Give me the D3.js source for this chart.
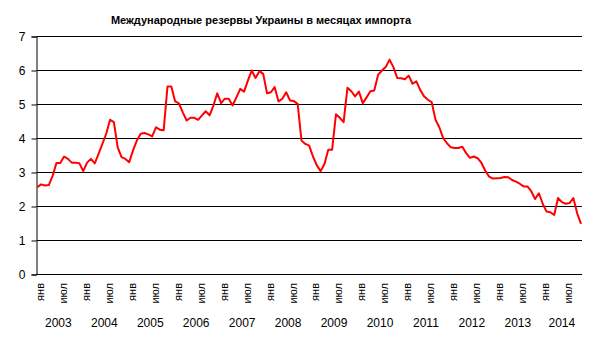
<!DOCTYPE html>
<html>
<head>
<meta charset="utf-8">
<script src="https://cdn.jsdelivr.net/npm/d3@7"></script>
<style>
  html, body { margin: 0; padding: 0; background: #fff; }
  svg { display: block; font-family: "Liberation Sans", Arial, sans-serif; }
</style>
</head>
<body>
<svg id="chart" width="600" height="340"></svg>
<script>
// International reserves of Ukraine, in months of imports (monthly, Jan 2003 – Nov 2014)
const title = "Международные резервы Украины в месяцах импорта";
const startYear = 2003;
const years = [2003, 2004, 2005, 2006, 2007, 2008, 2009, 2010, 2011, 2012, 2013, 2014];
const monthLabels = ["янв", "июл"];
const yTicks = [0, 1, 2, 3, 4, 5, 6, 7];
const reserves = [
  // 2003
  2.57, 2.65, 2.62, 2.63, 2.90, 3.28, 3.28, 3.47, 3.40, 3.29, 3.29, 3.27,
  // 2004
  3.04, 3.29, 3.40, 3.27, 3.55, 3.84, 4.14, 4.55, 4.48, 3.74, 3.45, 3.40,
  // 2005
  3.30, 3.65, 3.94, 4.14, 4.16, 4.12, 4.06, 4.33, 4.26, 4.24, 5.53, 5.53,
  // 2006
  5.09, 5.03, 4.77, 4.53, 4.61, 4.61, 4.55, 4.68, 4.80, 4.68, 4.97, 5.33,
  // 2007
  5.04, 5.17, 5.17, 4.97, 5.21, 5.46, 5.38, 5.70, 6.00, 5.78, 5.98, 5.90,
  // 2008
  5.33, 5.36, 5.51, 5.09, 5.17, 5.36, 5.12, 5.10, 5.02, 3.94, 3.84, 3.79,
  // 2009
  3.47, 3.21, 3.04, 3.25, 3.67, 3.67, 4.71, 4.61, 4.48, 5.49, 5.39, 5.24,
  // 2010
  5.38, 5.04, 5.21, 5.39, 5.41, 5.87, 6.00, 6.10, 6.32, 6.10, 5.78, 5.77,
  // 2011
  5.74, 5.85, 5.61, 5.68, 5.43, 5.24, 5.14, 5.07, 4.55, 4.33, 4.01, 3.86,
  // 2012
  3.74, 3.72, 3.72, 3.76, 3.57, 3.43, 3.47, 3.42, 3.28, 3.05, 2.88, 2.82,
  // 2013
  2.83, 2.84, 2.87, 2.86, 2.78, 2.73, 2.67, 2.59, 2.59, 2.45, 2.22, 2.39,
  // 2014
  2.08, 1.85, 1.83, 1.75, 2.25, 2.13, 2.08, 2.10, 2.25, 1.80, 1.49
];

const svg = d3.select("#chart");

const x = d3.scaleLinear().domain([0, reserves.length - 1]).range([37.3, 581]);
const y = d3.scaleLinear().domain([0, 7]).range([274.5, 36.5]);
const plotLeft = 36.5, plotRight = 582;

// Title
svg.append("text")
  .attr("x", 261).attr("y", 20)
  .attr("text-anchor", "middle")
  .attr("dominant-baseline", "central")
  .attr("font-size", 11).attr("font-weight", "bold")
  .attr("fill", "#000")
  .text(title);

// Horizontal grid lines
svg.append("g").selectAll("line")
  .data(yTicks.filter(d => d > 0))
  .join("line")
  .attr("x1", plotLeft).attr("x2", plotRight)
  .attr("y1", d => y(d)).attr("y2", d => y(d))
  .attr("stroke", "#000").attr("stroke-width", 1);

// Y axis with labels
const yAxis = svg.append("g")
  .attr("transform", `translate(${plotLeft},0)`)
  .call(d3.axisLeft(y).tickValues(yTicks).tickSize(5).tickPadding(6).tickFormat(d3.format("d")));
yAxis.select(".domain").attr("stroke", "#000");
yAxis.selectAll(".tick line").attr("stroke", "#000");
yAxis.selectAll("text")
  .attr("font-size", 12)
  .attr("font-family", "'Liberation Sans', Arial, sans-serif")
  .attr("fill", "#000");

// X axis baseline
svg.append("line")
  .attr("x1", plotLeft).attr("x2", plotRight)
  .attr("y1", y(0)).attr("y2", y(0))
  .attr("stroke", "#000").attr("stroke-width", 1);

// Month labels every six months (rotated)
const monthTicks = d3.range(0, reserves.length, 6);
svg.append("g").selectAll("text")
  .data(monthTicks)
  .join("text")
  .attr("transform", i => `translate(${x(i) + 2.5},283) rotate(-90)`)
  .attr("text-anchor", "end")
  .attr("dominant-baseline", "central")
  .attr("font-size", 11)
  .attr("fill", "#000")
  .text(i => monthLabels[(i % 12) / 6]);

// Year group labels, centred over each year's months
svg.append("g").selectAll("text")
  .data(years)
  .join("text")
  .attr("x", yr => {
    const first = (yr - startYear) * 12;
    const last = Math.min(first + 11, reserves.length - 1);
    return x((first + last) / 2);
  })
  .attr("y", 323)
  .attr("text-anchor", "middle")
  .attr("dominant-baseline", "central")
  .attr("font-size", 12)
  .attr("fill", "#000")
  .text(d => d);

// Reserves line
const line = d3.line()
  .x((d, i) => x(i))
  .y(d => y(d));

svg.append("path")
  .datum(reserves)
  .attr("d", line)
  .attr("fill", "none")
  .attr("stroke", "#ff0000")
  .attr("stroke-width", 2)
  .attr("stroke-linejoin", "round");
</script>
</body>
</html>
